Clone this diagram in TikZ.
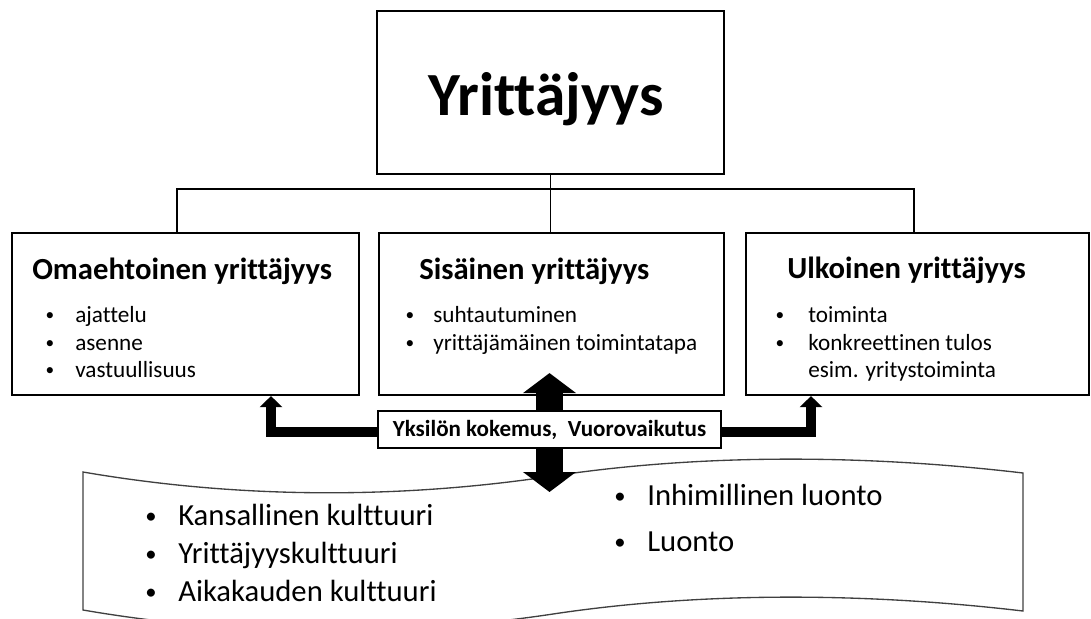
\documentclass[tikz,border=0pt]{standalone}
\usepackage{fontspec}
\setmainfont{Carlito}[Ligatures=NoCommon]
\usetikzlibrary{calc,arrows.meta,backgrounds}

\begin{document}
\begin{tikzpicture}[x=0.75pt,y=-0.75pt,
  box/.style={draw,line width=1.6pt,minimum height=121.5pt,inner sep=0pt},
  conn/.style={line width=0.9pt},
  head/.style={anchor=base west,inner sep=0pt,font=\bfseries\fontsize{23}{27}\selectfont},
  txt/.style={anchor=base west,inner sep=0pt,font=\fontsize{17.4}{20}\selectfont},
  dot/.style={anchor=base,inner sep=0pt,yshift=1.2pt,font=\fontsize{13}{15}\selectfont},
  bigtxt/.style={anchor=base west,inner sep=0pt,font=\fontsize{23}{27}\selectfont},
  bigdot/.style={anchor=base,inner sep=0pt,yshift=1.5pt,font=\fontsize{17}{20}\selectfont},
  bentarrow/.style={line width=7.5pt,-{Triangle[width=16.5pt,length=8.25pt]}},
  fatarrow/.style={line width=20.25pt,{Triangle[width=39pt,length=15pt]}-{Triangle[width=39pt,length=15pt]}}]
  \useasboundingbox (0,0) rectangle (1091,618);

  \node[box,minimum width=260.25pt,minimum height=122.25pt] (title) at (550.5,92.5) {};
  \node[anchor=base,inner sep=0pt,font=\bfseries\fontsize{46}{52}\selectfont] (titletxt) at (546,115) {Yrittäjyys};

  \node[box,minimum width=260.25pt] (omae) at (185.5,314) {};
  \node[box,minimum width=258.75pt] (sis) at (551.5,314) {};
  \node[box,minimum width=257.25pt] (ulko) at (917.5,314) {};

  \draw[conn] (title.south) -- ++(0,14) coordinate (hub);
  \draw[conn] (hub) -| ($(omae.north)+(-8.5,0)$);
  \draw[conn] (hub) -| ($(ulko.north)+(-3.5,0)$);
  \draw[conn] (hub) -- (hub |- sis.north);

  \node[head] (omaehead) at (32,279) {Omaehtoinen yrittäjyys};
  \node[dot] (od1) at (50,322) {•};
  \node[txt] (ot1) at (75,322) {ajattelu};
  \node[dot] (od2) at (50,350) {•};
  \node[txt] (ot2) at (75,350) {asenne};
  \node[dot] (od3) at (50,377) {•};
  \node[txt] (ot3) at (75,377) {vastuullisuus};

  \node[head] (sishead) at (419,279) {Sisäinen yrittäjyys};
  \node[dot] (sd1) at (410,322) {•};
  \node[txt] (st1) at (433,322) {suhtautuminen};
  \node[dot] (sd2) at (410,350) {•};
  \node[txt] (st2) at (433,350) {yrittäjämäinen toimintatapa};

  \node[head] (ulkohead) at (787,278) {Ulkoinen yrittäjyys};
  \node[dot] (ud1) at (780,322) {•};
  \node[txt] (ut1) at (808,322) {toiminta};
  \node[dot] (ud2) at (780,350) {•};
  \node[txt] (ut2) at (808,350) {konkreettinen tulos};
  \node[txt] (ut3) at (808,377) {esim. yritystoiminta};

  \node[draw,fill=white,line width=1.6pt,minimum width=257.25pt,minimum height=27.75pt,inner sep=0pt,
    font=\bfseries\fontsize{17.3}{20}\selectfont] (lbl) at (549.5,429.5) {Yksilön kokemus,\ \ Vuorovaikutus};

  % culture shape and arrows behind
  \begin{scope}[on background layer]
    \draw[line width=1pt,black!75] (83,472) .. controls (240,499) and (400,499) .. (553,476)
      .. controls (706,453) and (870,455) .. (1023,473) -- (1023,611)
      .. controls (870,593) and (706,591) .. (553,614)
      .. controls (400,637) and (240,637) .. (83,610) -- cycle;
    \coordinate (up) at ($(sis.south)+(-2,-23)$);
    \coordinate (down) at (549.5,492);
    \draw[fatarrow] (down) -- (up);
    \draw[bentarrow] ($(lbl.west)+(0,2.5)$) -| ($(omae.south)+(85.5,0)$);
    \draw[bentarrow] ($(lbl.east)+(0,2.5)$) -| ($(ulko.south)+(-106.5,0)$);
  \end{scope}

  \node[bigdot] (kd1) at (151,525) {•};
  \node[bigtxt] (kt1) at (178,525) {Kansallinen kulttuuri};
  \node[bigdot] (kd2) at (151,563) {•};
  \node[bigtxt] (kt2) at (178,563) {Yrittäjyyskulttuuri};
  \node[bigdot] (kd3) at (151,601) {•};
  \node[bigtxt] (kt3) at (178,601) {Aikakauden kulttuuri};
  \node[bigdot] (ld1) at (620,505) {•};
  \node[bigtxt] (lt1) at (647,505) {Inhimillinen luonto};
  \node[bigdot] (ld2) at (620,551) {•};
  \node[bigtxt] (lt2) at (647,551) {Luonto};
\end{tikzpicture}
\end{document}
